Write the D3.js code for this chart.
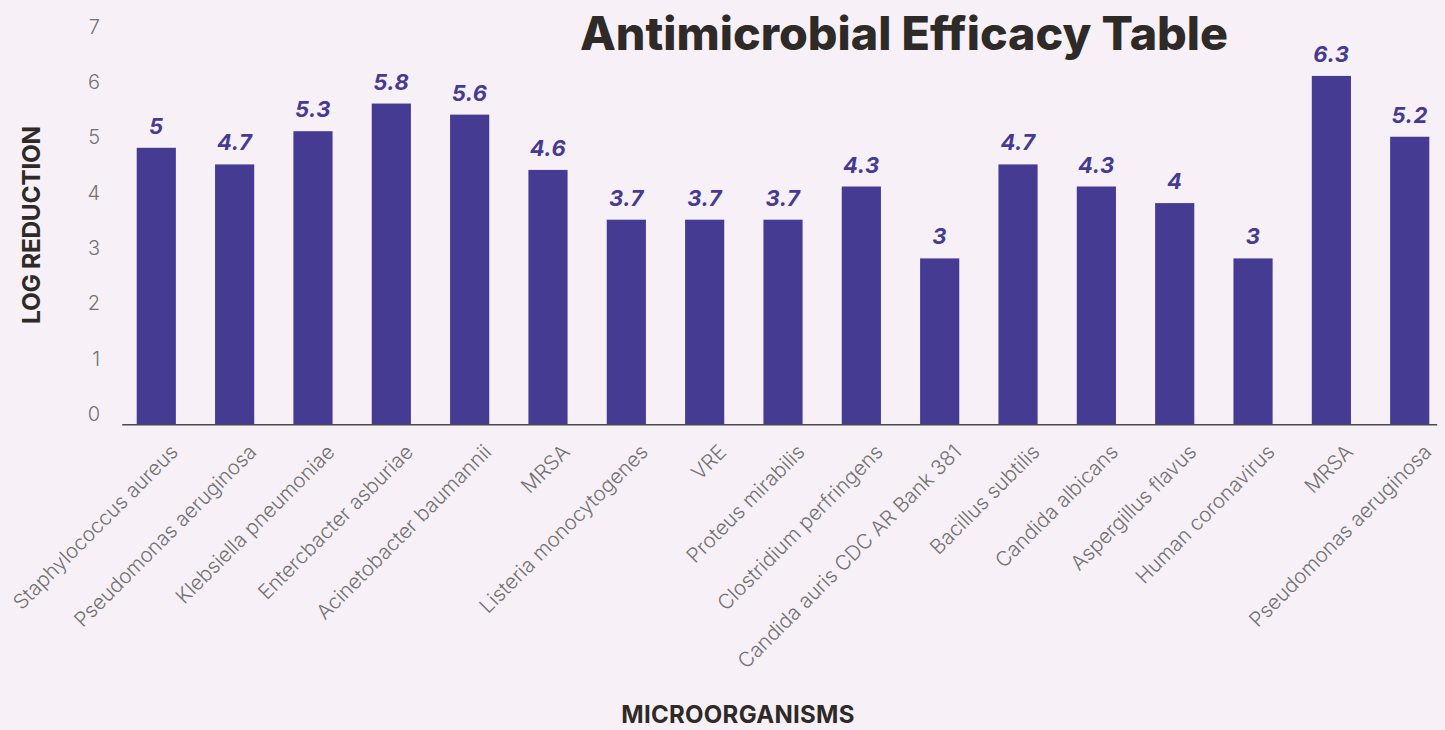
<!DOCTYPE html>
<html>
<head>
<meta charset="utf-8">
<script src="https://cdn.jsdelivr.net/npm/d3@7"></script>
<style>
    body { margin: 0; background: #f7f1f7; }
    svg { display: block; }
</style>
</head>
<body>
<div id="chart"></div>
<script>
// data
var organisms = ["Staphylococcus aureus", "Pseudomonas aeruginosa", "Klebsiella pneumoniae",
    "Entercbacter asburiae", "Acinetobacter baumannii", "MRSA", "Listeria monocytogenes",
    "VRE", "Proteus mirabilis", "Clostridium perfringens", "Candida auris CDC AR Bank 381",
    "Bacillus subtilis", "Candida albicans", "Aspergillus flavus", "Human coronavirus",
    "MRSA", "Pseudomonas aeruginosa"];
var logReduction = [5, 4.7, 5.3, 5.8, 5.6, 4.6, 3.7, 3.7, 3.7, 4.3, 3, 4.7, 4.3, 4, 3, 6.3, 5.2];
var yTicks = [0, 1, 2, 3, 4, 5, 6, 7];

var width = 1445, height = 730;
var barColor = "#453b93";
var darkText = "#2e2a27";
var grayText = "#727272";

var data = organisms.map((d, i) => ({ key: i, name: d, value: logReduction[i] }));

var svg = d3.select("#chart").append("svg")
    .attr("width", width)
    .attr("height", height)
    .style("font-family", "Inter, 'Open Sans', sans-serif");

var xScale = d3.scaleBand()
    .domain(data.map(d => d.key))
    .range([121.7, 1436.7])
    .paddingInner(0.5)
    .paddingOuter(0.143)
    .align(0.67);

var yScale = d3.scaleLinear()
    .domain([0, 7])
    .range([424.3, 424.3 - 7 * 55.3]);

// Y axis (labels only, drawn a little above the gridline position)
var yAxis = svg.append("g")
    .attr("transform", "translate(100,0)")
    .call(d3.axisLeft(yScale).tickValues(yTicks).tickFormat(d3.format("d")).tickSize(0).tickPadding(0));
yAxis.select(".domain").remove();
yAxis.selectAll("text")
    .attr("dy", "-0.2em")
    .attr("fill", grayText)
    .style("font-size", "20px")
    .style("font-weight", 300)
    .style("font-family", "Inter, sans-serif");

// bars
svg.append("g")
    .selectAll("rect")
    .data(data)
    .join("rect")
    .attr("x", d => xScale(d.key))
    .attr("y", d => yScale(d.value))
    .attr("width", xScale.bandwidth())
    .attr("height", d => yScale(0) - yScale(d.value))
    .attr("fill", barColor);

// value labels
svg.append("g")
    .selectAll("text")
    .data(data)
    .join("text")
    .attr("x", d => xScale(d.key) + xScale.bandwidth() / 2)
    .attr("y", d => yScale(d.value) - 14)
    .attr("text-anchor", "middle")
    .attr("fill", barColor)
    .style("font-size", "22px")
    .style("font-weight", 700)
    .style("font-style", "italic")
    .style("letter-spacing", "0.5px")
    .text(d => d.value);

// X axis
var xAxis = svg.append("g")
    .attr("transform", `translate(0,${yScale(0)})`)
    .call(d3.axisBottom(xScale).tickSize(0).tickSizeOuter(0).tickFormat(k => organisms[k]));
xAxis.select(".domain")
    .attr("stroke", "#4a4a4a")
    .attr("stroke-width", 1.5);
xAxis.selectAll(".tick text")
    .attr("text-anchor", "end")
    .attr("x", 0).attr("y", 0).attr("dy", 0)
    .attr("transform", "translate(23,29) rotate(-45)")
    .attr("fill", grayText)
    .style("font-size", "20.5px")
    .style("font-weight", 300)
    .style("font-family", "Inter, sans-serif");

// title
svg.append("text")
    .attr("x", 580)
    .attr("y", 50)
    .attr("textLength", 648)
    .attr("lengthAdjust", "spacingAndGlyphs")
    .attr("fill", darkText)
    .style("font-size", "46px")
    .style("font-weight", 800)
    .text("Antimicrobial Efficacy Table");

// axis titles
svg.append("text")
    .attr("transform", "translate(40,225) rotate(-90)")
    .attr("text-anchor", "middle")
    .attr("fill", darkText)
    .style("font-size", "24.5px")
    .style("font-weight", 700)
    .style("letter-spacing", "-0.3px")
    .text("LOG REDUCTION");

svg.append("text")
    .attr("x", 738)
    .attr("y", 723)
    .attr("text-anchor", "middle")
    .attr("fill", darkText)
    .style("font-size", "24px")
    .style("font-weight", 700)
    .style("letter-spacing", "0.3px")
    .text("MICROORGANISMS");
</script>
</body>
</html>
